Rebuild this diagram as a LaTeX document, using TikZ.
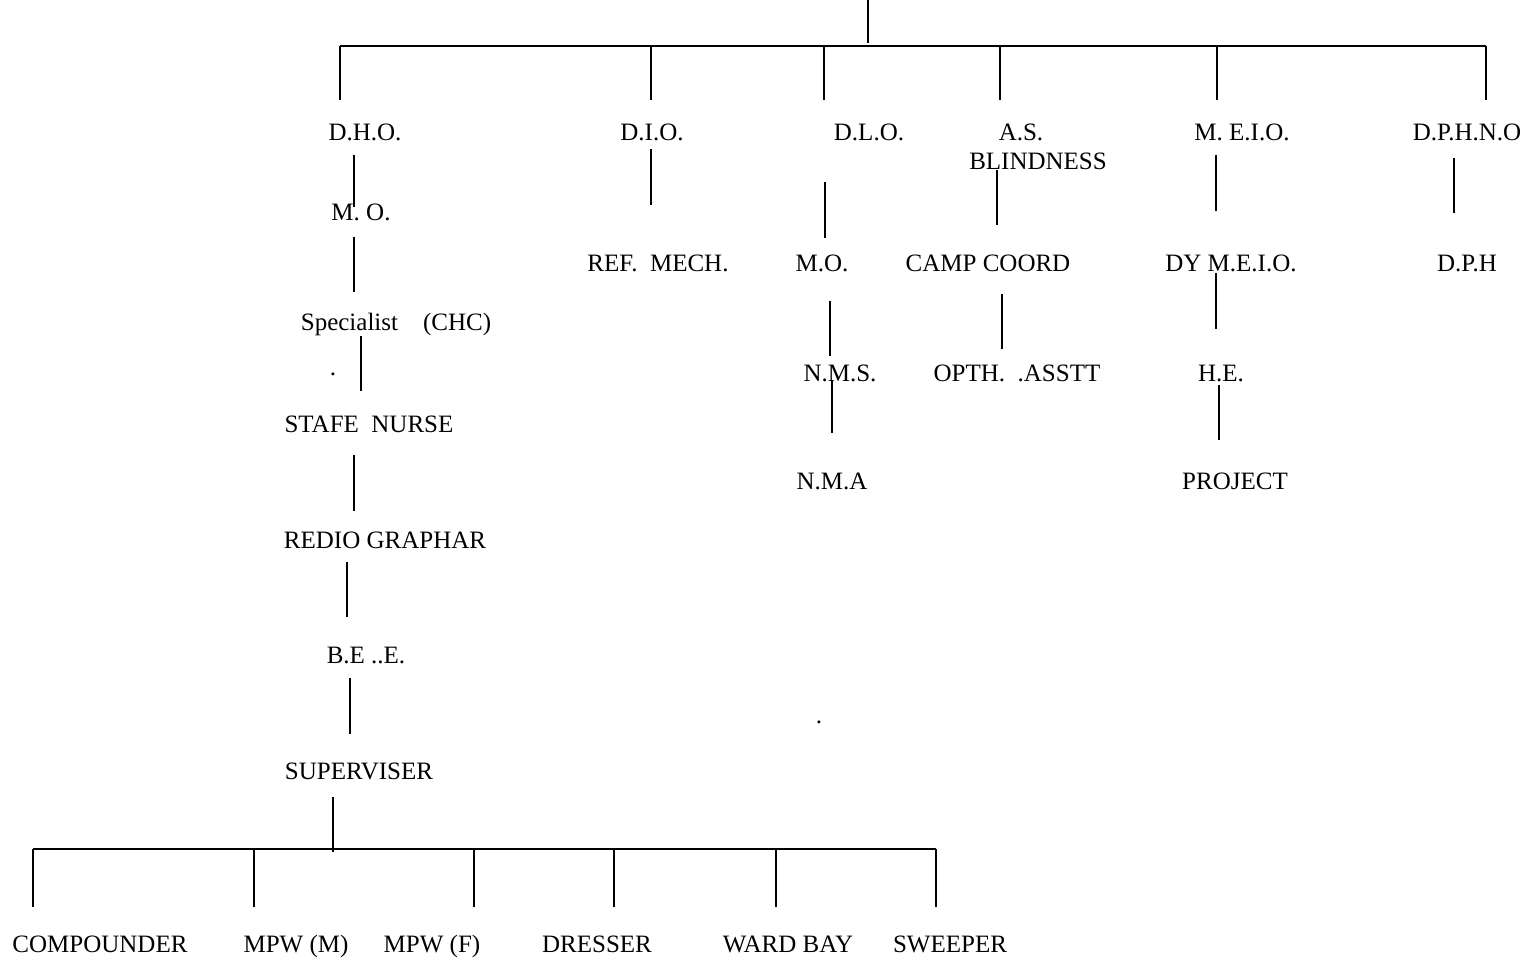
\documentclass[tikz,border=0pt]{standalone}
\usepackage{fontspec}
\setmainfont{Liberation Serif}
\begin{document}
\begin{tikzpicture}[x=0.5pt,y=-0.5pt,
		post/.style={font=\fontsize{12.5}{14.5}\selectfont,inner sep=0pt,anchor=base,align=center},
		link/.style={line width=0.8pt}]
		\useasboundingbox (0,0) rectangle (1528,961);
		% top level
		\coordinate (top) at (868,0);
		\coordinate (hub) at (868,43);
		\coordinate (barl) at (340,46);
		\coordinate (barr) at (1486,46);
		\node[post] (dho) at (365,141) {D.H.O.};
		\node[post] (dio) at (652,141) {D.I.O.};
		\node[post] (dlo) at (869,141) {D.L.O.};
		\node[post] (as) at (1038,170) {A.S.\hspace*{17pt}\\BLINDNESS};
		\node[post] (meio) at (1242,141) {M. E.I.O.};
		\node[post] (dphno) at (1467,141) {D.P.H.N.O};
		\draw[link] (top) -- (hub);
		\draw[link] (barl) -- (barr);
		\foreach \n/\dx/\dy in {dho/-25/-41,dio/-1/-41,dlo/-45/-41,as/-38/-70,meio/-25/-41,dphno/19/-41}
			\draw[link] ([shift={(\dx,\dy)}]\n.base) -- ++(0,-54);
		% D.H.O. branch
		\node[post] (mo) at (361,221) {M. O.};
		\node[post] (spec) at (396,331) {Specialist\ \ \ \ (CHC)};
		\node[post] (dota) at (333,376) {.};
		\node[post] (nurse) at (369,433) {STAFE\ \ NURSE};
		\node[post] (redio) at (385,549) {REDIO GRAPHAR};
		\node[post] (bee) at (366,664) {B.E ..E.};
		\node[post] (sup) at (359,780) {SUPERVISER};
		\draw[link] ([shift={(-11,14)}]dho.base) -- ([shift={(-7,-14)}]mo.base);
		\draw[link] ([shift={(-7,16)}]mo.base) -- ([shift={(-42,-39)}]spec.base);
		\draw[link] ([shift={(-35,5)}]spec.base) -- ([shift={(-8,-42)}]nurse.base);
		\draw[link] ([shift={(-15,22)}]nurse.base) -- ([shift={(-31,-38)}]redio.base);
		\draw[link] ([shift={(-38,13)}]redio.base) -- ([shift={(-19,-47)}]bee.base);
		\draw[link] ([shift={(-16,14)}]bee.base) -- ([shift={(-9,-46)}]sup.base);
		\draw[link] ([shift={(-26,17)}]sup.base) -- ++(0,55);
		% staff under supervisor
		\coordinate (subl) at (33,849);
		\coordinate (subr) at (936,849);
		\draw[link] (subl) -- (subr);
		\node[post] (comp) at (100,953) {COMPOUNDER};
		\node[post] (mpwm) at (296,953) {MPW (M)};
		\node[post] (mpwf) at (432,953) {MPW (F)};
		\node[post] (dresser) at (597,953) {DRESSER};
		\node[post] (ward) at (788,953) {WARD BAY};
		\node[post] (sweeper) at (950,953) {SWEEPER};
		\foreach \n/\dx in {comp/-67,mpwm/-42,mpwf/42,dresser/17,ward/-12,sweeper/-14}
			\draw[link] ([shift={(\dx,-46)}]\n.base) -- ++(0,-58);
		% D.I.O. branch
		\node[post] (refm) at (658,272) {REF.\ \ MECH.};
		\draw[link] ([shift={(-1,8)}]dio.base) -- ([shift={(-7,-67)}]refm.base);
		% D.L.O. branch
		\node[post] (mob) at (822,272) {M.O.};
		\node[post] (nms) at (840,382) {N.M.S.};
		\node[post] (nma) at (832,490) {N.M.A};
		\node[post] (dotb) at (819,724) {.};
		\draw[link] ([shift={(-44,41)}]dlo.base) -- ([shift={(3,-34)}]mob.base);
		\draw[link] ([shift={(8,29)}]mob.base) -- ([shift={(-10,-26)}]nms.base);
		\draw[link] ([shift={(-8,-2)}]nms.base) -- ([shift={(0,-57)}]nma.base);
		% A.S. blindness branch
		\node[post] (camp) at (988,272) {CAMP COORD};
		\node[post] (opth) at (1017,382) {OPTH.\ \ .ASSTT};
		\draw[link] ([shift={(-41,0)}]as.base) -- ([shift={(9,-47)}]camp.base);
		\draw[link] ([shift={(14,22)}]camp.base) -- ([shift={(-15,-33)}]opth.base);
		% M.E.I.O. branch
		\node[post] (dymeio) at (1231,272) {DY M.E.I.O.};
		\node[post] (he) at (1221,382) {H.E.};
		\node[post] (proj) at (1235,490) {PROJECT};
		\draw[link] ([shift={(-26,14)}]meio.base) -- ([shift={(-15,-61)}]dymeio.base);
		\draw[link] ([shift={(-15,1)}]dymeio.base) -- ([shift={(-5,-53)}]he.base);
		\draw[link] ([shift={(-2,3)}]he.base) -- ([shift={(-16,-50)}]proj.base);
		% D.P.H.N.O. branch
		\node[post] (dph) at (1467,272) {D.P.H};
		\draw[link] ([shift={(-13,17)}]dphno.base) -- ([shift={(-13,-59)}]dph.base);
\end{tikzpicture}
\end{document}
